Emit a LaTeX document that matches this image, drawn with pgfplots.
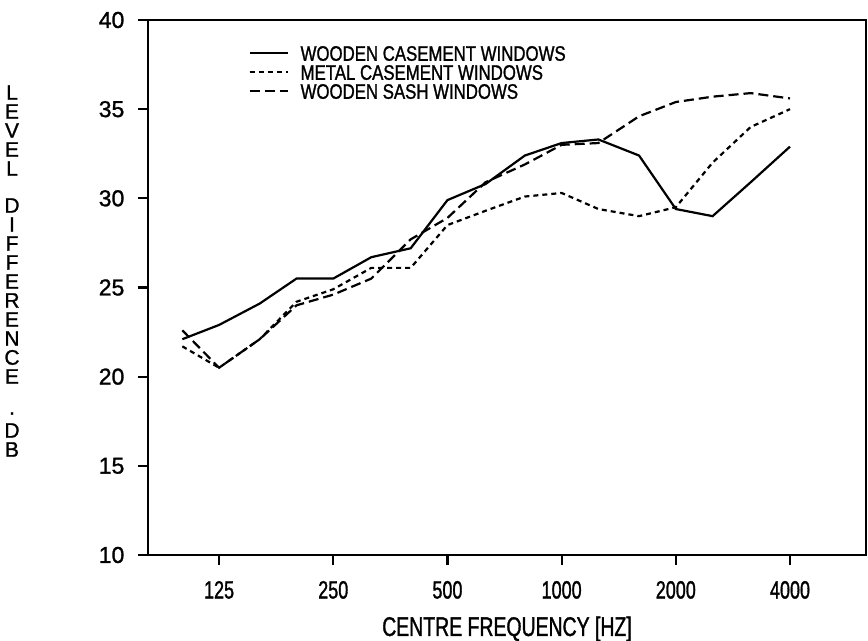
\documentclass[border=0pt]{standalone}
\usepackage{fontspec}
\setmainfont{Liberation Sans}
\newfontfamily\narrow[FakeStretch=0.72, FakeBold=1.2]{Liberation Sans}
\newfontfamily\legfont[FakeStretch=0.8, FakeBold=1.2]{Liberation Sans}
\newfontfamily\plotfont[FakeBold=1.2]{Liberation Sans}
\usepackage{pgfplots}
\usepackage{pgfplotstable}
\pgfplotsset{compat=1.18}

\pgfplotstableread{
f    v
100  22.1
125  22.9
160  24.1
200  25.5
250  25.5
315  26.7
400  27.2
500  29.9
630  30.8
800  32.4
1000 33.1
1250 33.3
1600 32.4
2000 29.4
2500 29.0
3150 30.9
4000 32.9
}\woodcase

\pgfplotstableread{
f    v
100  21.7
125  20.5
160  22.1
200  24.2
250  24.9
315  26.1
400  26.1
500  28.5
630  29.3
800  30.1
1000 30.3
1250 29.4
1600 29.0
2000 29.5
2500 32.0
3150 34.0
4000 35.0
}\metalcase

\pgfplotstableread{
f    v
100  22.6
125  20.5
160  22.1
200  24.0
250  24.6
315  25.5
400  27.7
500  28.9
630  30.9
800  31.9
1000 33.0
1250 33.1
1600 34.6
2000 35.4
2500 35.7
3150 35.9
4000 35.6
}\woodsash

\begin{document}
\begin{tikzpicture}
\begin{axis}[
  name=ax,
  scale only axis, width=359pt, height=267.5pt,
  xmode=log, log basis x=2,
  xmin=81.2, xmax=6345, ymin=10, ymax=40,
  xtick={125,250,500,1000,2000,4000},
  xticklabels={125,250,500,1000,2000,4000},
  ytick={10,15,20,25,30,35,40},
  minor xtick={},
  xtick pos=bottom, ytick pos=left,
  tick align=outside, major tick length=5pt,
  axis line style={line width=1.2pt},
  every tick/.style={black, line width=1.1pt},
  /pgf/number format/assume math mode=true,
  xticklabel style={font=\narrow\fontsize{12.5}{12.5}\selectfont, yshift=-4.5pt},
  yticklabel style={font=\plotfont\fontsize{11.5}{11.5}\selectfont, xshift=-3.3pt},
  xlabel={CENTRE FREQUENCY [HZ]},
  xlabel style={font=\narrow\fontsize{13.5}{13.5}\selectfont, at={(axis description cs:0.5,0)}, anchor=center, yshift=-37pt},
  legend style={at={(0.1393,0.9533)}, anchor=north west, draw=none, fill=none,
    inner sep=0pt, row sep=1.8pt, font=\legfont\fontsize{10.5}{10.5}\selectfont,
    nodes={inner sep=0pt, text height=7.7pt, text depth=0pt},
    /tikz/every odd column/.append style={column sep=6pt}},
  legend cell align=left,
  legend image code/.code={\draw[#1] (0pt,0pt) -- (19pt,0pt);},
]
\addplot[black, line width=1.1pt] table[x=f, y=v] {\woodcase};
\addlegendentry{WOODEN CASEMENT WINDOWS}
\addplot[black, line width=1.1pt, dash pattern=on 2.5pt off 2pt] table[x=f, y=v] {\metalcase};
\addlegendentry{METAL CASEMENT WINDOWS}
\addplot[black, line width=1.1pt, dash pattern=on 5pt off 2.5pt] table[x=f, y=v] {\woodsash};
\addlegendentry{WOODEN SASH WINDOWS}
\end{axis}
\node[font=\plotfont\fontsize{10.5}{9.5}\selectfont, align=center, inner sep=0pt]
  at ([xshift=-68pt,yshift=142pt]ax.south west)
  {L\\E\\V\\E\\L\\[9pt]D\\I\\F\\F\\E\\R\\E\\N\\C\\E\\[6pt].\\[2pt]D\\B};
\pgfresetboundingbox
\path ([xshift=-74pt,yshift=-43pt]ax.south west) rectangle ([xshift=1pt,yshift=10pt]ax.north east);
\end{tikzpicture}
\end{document}
